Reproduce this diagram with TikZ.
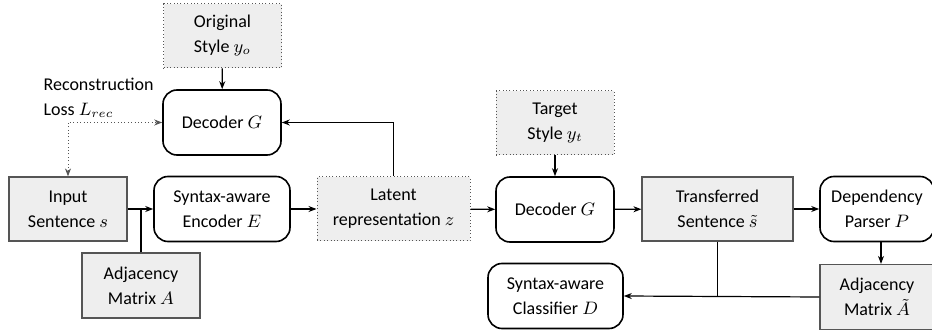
\documentclass[tikz,border=0pt]{standalone}
\usepackage{fontspec}
\setmainfont{Carlito}
\usetikzlibrary{arrows.meta}
\definecolor{boxgray}{HTML}{EEEEEE}
\definecolor{linegray}{HTML}{555555}
\begin{document}
\begin{tikzpicture}[x=0.5pt,y=-0.5pt,>={Stealth[length=4pt,width=3pt]},line width=0.6pt]
  \tikzstyle{every node}+=[font=\fontsize{9}{12.5}\selectfont,align=center,inner sep=0pt]
  \tikzstyle{dots}=[line width=0.5pt,dash pattern=on 0.5pt off 1.2pt]
  \tikzstyle{databox}=[draw=linegray,fill=boxgray,minimum width=59pt,minimum height=32pt]
  \tikzstyle{dotbox}=[draw=linegray,dots,fill=boxgray,minimum width=59pt,minimum height=32pt]
  \tikzstyle{netbox}=[draw=black,line width=0.8pt,rounded corners=7pt,fill=white,minimum width=59pt,minimum height=32.5pt]
  \useasboundingbox (0,0) rectangle (932,331);
  % reconstruction branch
  \node [dotbox] (orig) at (222.5,36) {Original\\Style $y_o$};
  \node [netbox] (dec1) at (222,122.5) {Decoder $G$};
  \node [anchor=west,align=left] (recloss) at (43,98) {Reconstruction\\Loss $L_{rec}$};
  % encoder
  \node [databox] (input) at (68,209) {Input\\Sentence $s$};
  \node [netbox,minimum width=68pt] (enc) at (222,209) {Syntax-aware\\Encoder $E$};
  \node [dotbox,minimum width=76.5pt] (latent) at (393.5,209) {Latent\\representation $z$};
  \node [databox,minimum height=32.5pt] (adj) at (141,285.5) {Adjacency\\Matrix $A$};
  % transfer branch
  \node [dotbox] (target) at (555,123) {Target\\Style $y_t$};
  \node [netbox] (dec2) at (555,209.5) {Decoder $G$};
  \node [databox,minimum width=75.5pt] (trans) at (717.5,209) {Transferred\\Sentence $\tilde{s}$};
  \node [netbox,minimum width=57pt] (parser) at (877,209) {Dependency\\Parser $P$};
  \node [databox,minimum width=57pt,minimum height=32.5pt] (adjt) at (877,297) {Adjacency\\Matrix $\tilde{A}$};
  \node [netbox,minimum width=67.5pt] (cls) at (555.5,296) {Syntax-aware\\Classifier $D$};
  % connectors
  \draw [->] (orig) -- (dec1);
  \draw [<->,dots,draw=linegray] (input.north) |- (dec1.west);
  \draw [->] (latent.north) |- (dec1.east);
  \draw [->] (input) -- (enc);
  \draw (adj.north) -- (adj.north |- input.east);
  \draw [->] (enc) -- (latent);
  \draw [->] (latent) -- (dec2);
  \draw [->] (target) -- (dec2);
  \draw [->] (dec2) -- (trans);
  \draw [->] (trans) -- (parser);
  \draw [->] ([xshift=2pt]parser.south) -- ([xshift=2pt]adjt.north);
  \draw [->] (adjt.west) -- (cls.east);
  \draw (trans.south) -- (trans.south |- cls.east);
\end{tikzpicture}
\end{document}
